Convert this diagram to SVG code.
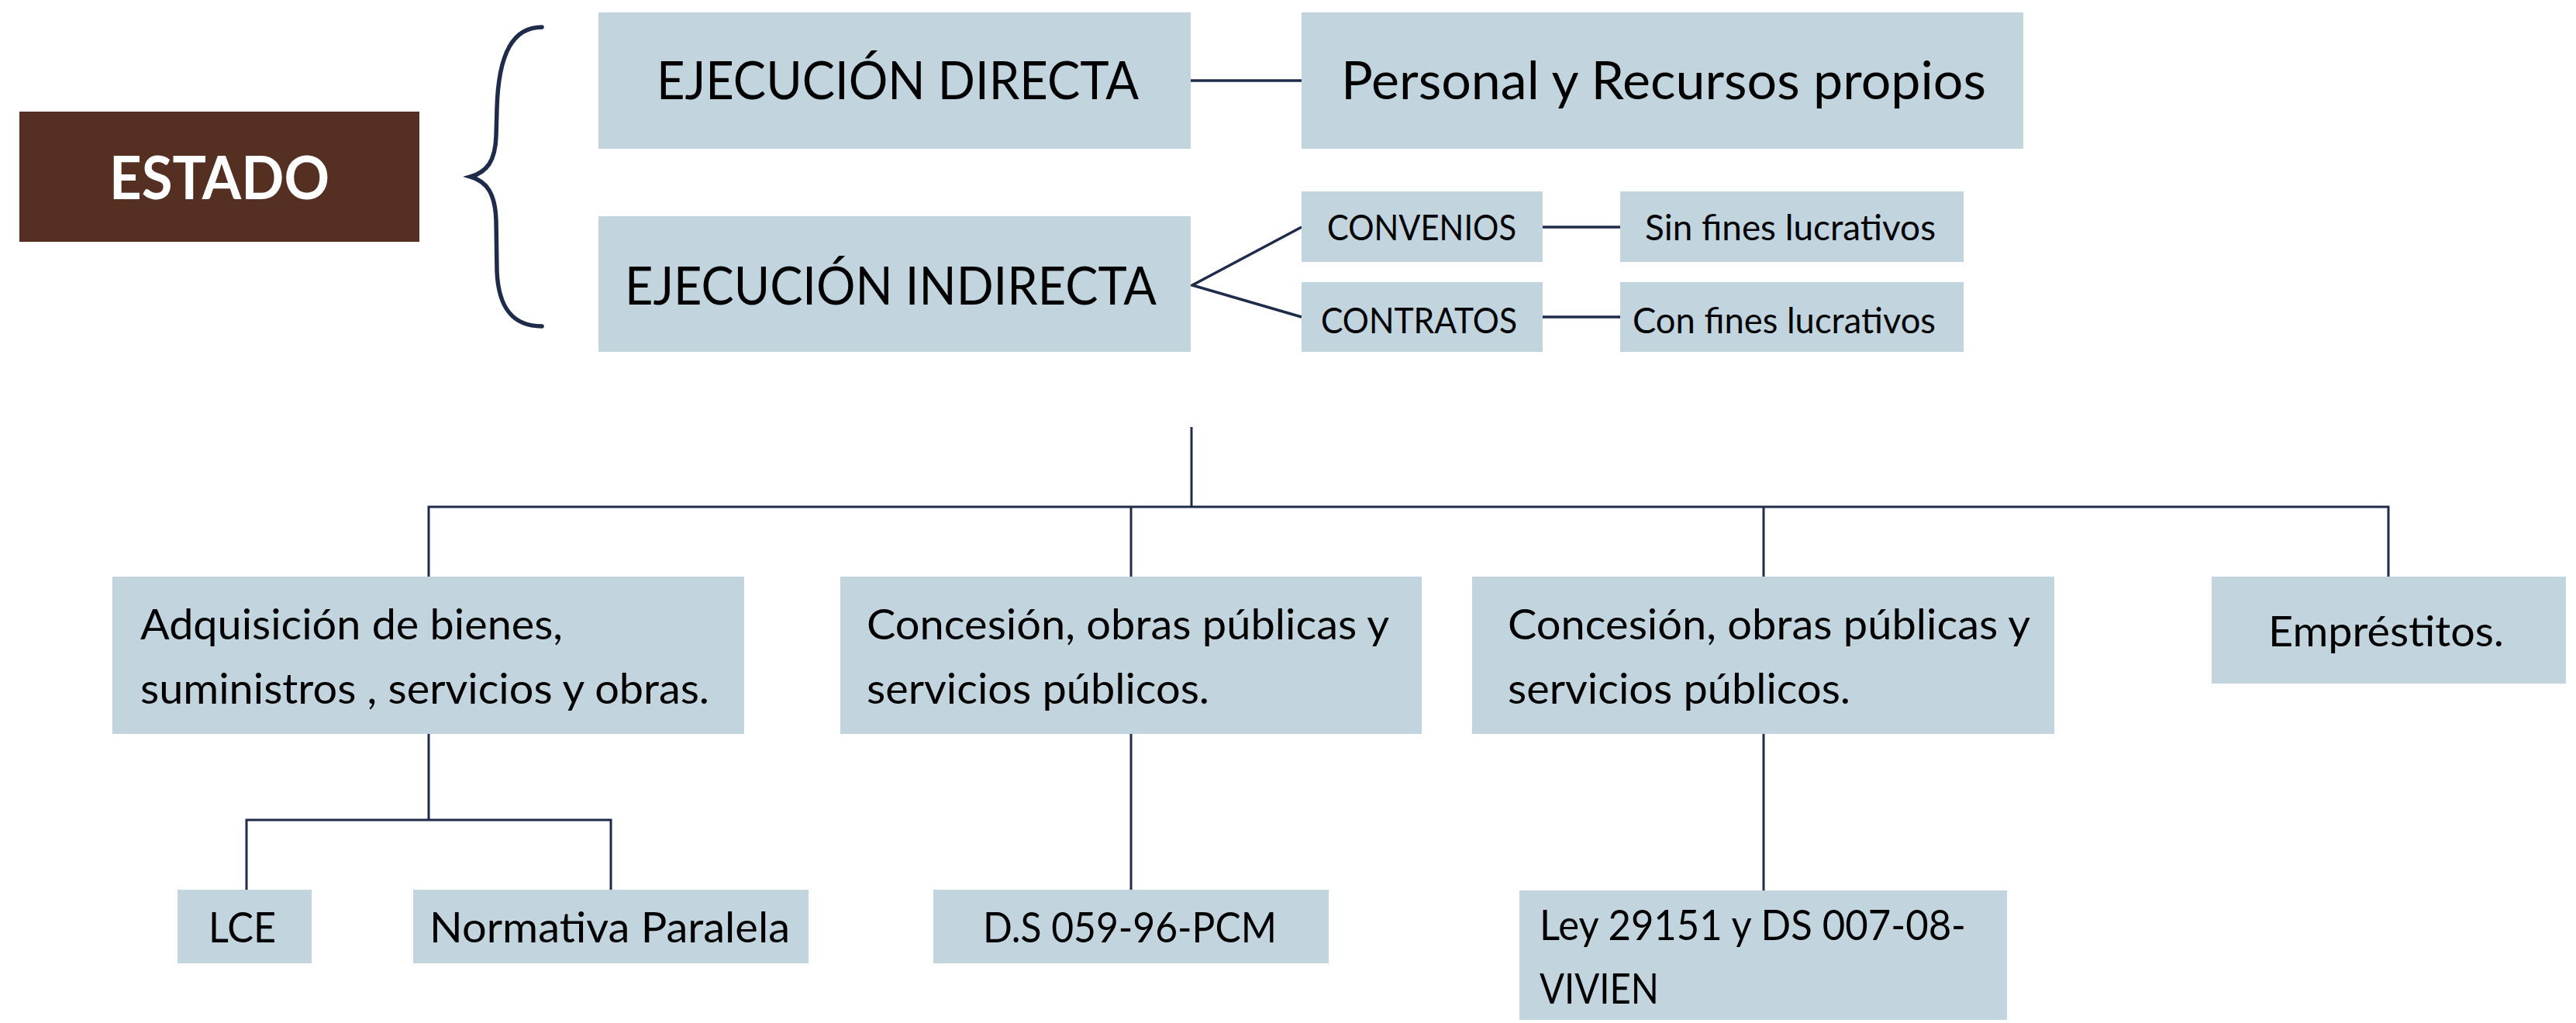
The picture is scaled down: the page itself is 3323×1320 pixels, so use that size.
<svg xmlns="http://www.w3.org/2000/svg" width="3323" height="1320" viewBox="0 0 3323 1320">
<style>
.box{fill:#c2d5df}
.t{font-family:Lato,"Source Sans Pro","Noto Sans",sans-serif;fill:#000}
.big{font-size:67px}
.mid{font-size:55px}
.sm{font-size:46px}
.ln{stroke:#1f2b4a;stroke-width:3.5;fill:none}
.tn{stroke:#1f2b4a;stroke-width:3;fill:none}
.brace{stroke:#1f2b4a;stroke-width:5.5;fill:none;stroke-linecap:round}
</style>
<rect width="3323" height="1320" fill="#fff"/>
<g id="connectors">
<path class="brace" d="M 699 35 C 662 35 643 68 641 140 L 640 175 C 639 208 628 222 607 228 C 628 234 639 250 640 285 L 641 350 C 643 398 662 421 699 421"/>
<line class="ln" x1="1536" y1="104" x2="1679" y2="104"/>
<polyline class="ln" points="1679,293 1538,368 1679,409"/>
<line class="ln" x1="1990" y1="293" x2="2090" y2="293"/>
<line class="ln" x1="1990" y1="409" x2="2090" y2="409"/>
<line class="tn" x1="1537" y1="551" x2="1537" y2="654"/>
<polyline class="tn" points="553,744 553,654 3081,654 3081,744"/>
<line class="tn" x1="1459" y1="654" x2="1459" y2="744"/>
<line class="tn" x1="2275" y1="654" x2="2275" y2="744"/>
<line class="tn" x1="553" y1="947" x2="553" y2="1058"/>
<polyline class="tn" points="318,1148 318,1058 788,1058 788,1148"/>
<line class="tn" x1="1459" y1="947" x2="1459" y2="1148"/>
<line class="tn" x1="2275" y1="947" x2="2275" y2="1149"/>
</g>
<g id="estado">
<rect x="25" y="144" width="516" height="168" fill="#552f22"/>
<text x="283" y="257" text-anchor="middle" font-family="Lato,'Noto Sans',sans-serif" font-weight="bold" font-size="77" fill="#fff" textLength="284" lengthAdjust="spacingAndGlyphs">ESTADO</text>
</g>
<g id="directa">
<rect class="box" x="772" y="16" width="764" height="176"/>
<text class="t big" x="847" y="128" textLength="622" lengthAdjust="spacingAndGlyphs">EJECUCIÓN DIRECTA</text>
</g>
<g id="indirecta">
<rect class="box" x="772" y="279" width="764" height="175"/>
<text class="t big" x="806" y="393" textLength="686" lengthAdjust="spacingAndGlyphs">EJECUCIÓN INDIRECTA</text>
</g>
<g id="personal">
<rect class="box" x="1679" y="16" width="931" height="176"/>
<text class="t big" x="1730" y="128" textLength="832" lengthAdjust="spacingAndGlyphs">Personal y Recursos propios</text>
</g>
<g id="convenios">
<rect class="box" x="1679" y="247" width="311" height="91"/>
<text class="t sm" x="1712" y="310" textLength="244" lengthAdjust="spacingAndGlyphs">CONVENIOS</text>
</g>
<g id="contratos">
<rect class="box" x="1679" y="364" width="311" height="90"/>
<text class="t sm" x="1704" y="430" textLength="253" lengthAdjust="spacingAndGlyphs">CONTRATOS</text>
</g>
<g id="sinfines">
<rect class="box" x="2090" y="247" width="443" height="91"/>
<text class="t sm" x="2122" y="310" textLength="375" lengthAdjust="spacingAndGlyphs">Sin fines lucrativos</text>
</g>
<g id="confines">
<rect class="box" x="2090" y="364" width="443" height="90"/>
<text class="t sm" x="2106" y="430" textLength="391" lengthAdjust="spacingAndGlyphs">Con fines lucrativos</text>
</g>
<g id="adquisicion">
<rect class="box" x="145" y="744" width="815" height="203"/>
<text class="t mid" x="181" y="825" textLength="545" lengthAdjust="spacingAndGlyphs">Adquisición de bienes,</text>
<text class="t mid" x="181" y="908" textLength="734" lengthAdjust="spacingAndGlyphs">suministros , servicios y obras.</text>
</g>
<g id="concesion1">
<rect class="box" x="1084" y="744" width="750" height="203"/>
<text class="t mid" x="1118" y="825" textLength="674" lengthAdjust="spacingAndGlyphs">Concesión, obras públicas y</text>
<text class="t mid" x="1118" y="908" textLength="442" lengthAdjust="spacingAndGlyphs">servicios públicos.</text>
</g>
<g id="concesion2">
<rect class="box" x="1899" y="744" width="751" height="203"/>
<text class="t mid" x="1945" y="825" textLength="674" lengthAdjust="spacingAndGlyphs">Concesión, obras públicas y</text>
<text class="t mid" x="1945" y="908" textLength="442" lengthAdjust="spacingAndGlyphs">servicios públicos.</text>
</g>
<g id="emprestitos">
<rect class="box" x="2853" y="744" width="457" height="138"/>
<text class="t mid" x="2926" y="834" font-size="58" textLength="304" lengthAdjust="spacingAndGlyphs">Empréstitos.</text>
</g>
<g id="lce">
<rect class="box" x="229" y="1148" width="173" height="95"/>
<text class="t mid" x="269" y="1216" textLength="87" lengthAdjust="spacingAndGlyphs">LCE</text>
</g>
<g id="normativa">
<rect class="box" x="533" y="1148" width="510" height="95"/>
<text class="t mid" x="554" y="1216" textLength="465" lengthAdjust="spacingAndGlyphs">Normativa Paralela</text>
</g>
<g id="ds">
<rect class="box" x="1204" y="1148" width="510" height="95"/>
<text class="t mid" x="1268" y="1216" textLength="379" lengthAdjust="spacingAndGlyphs">D.S 059-96-PCM</text>
</g>
<g id="ley">
<rect class="box" x="1960" y="1149" width="629" height="167"/>
<text class="t mid" x="1986" y="1213" textLength="550" lengthAdjust="spacingAndGlyphs">Ley 29151 y DS 007-08-</text>
<text class="t mid" x="1986" y="1295" textLength="154" lengthAdjust="spacingAndGlyphs">VIVIEN</text>
</g>
</svg>
